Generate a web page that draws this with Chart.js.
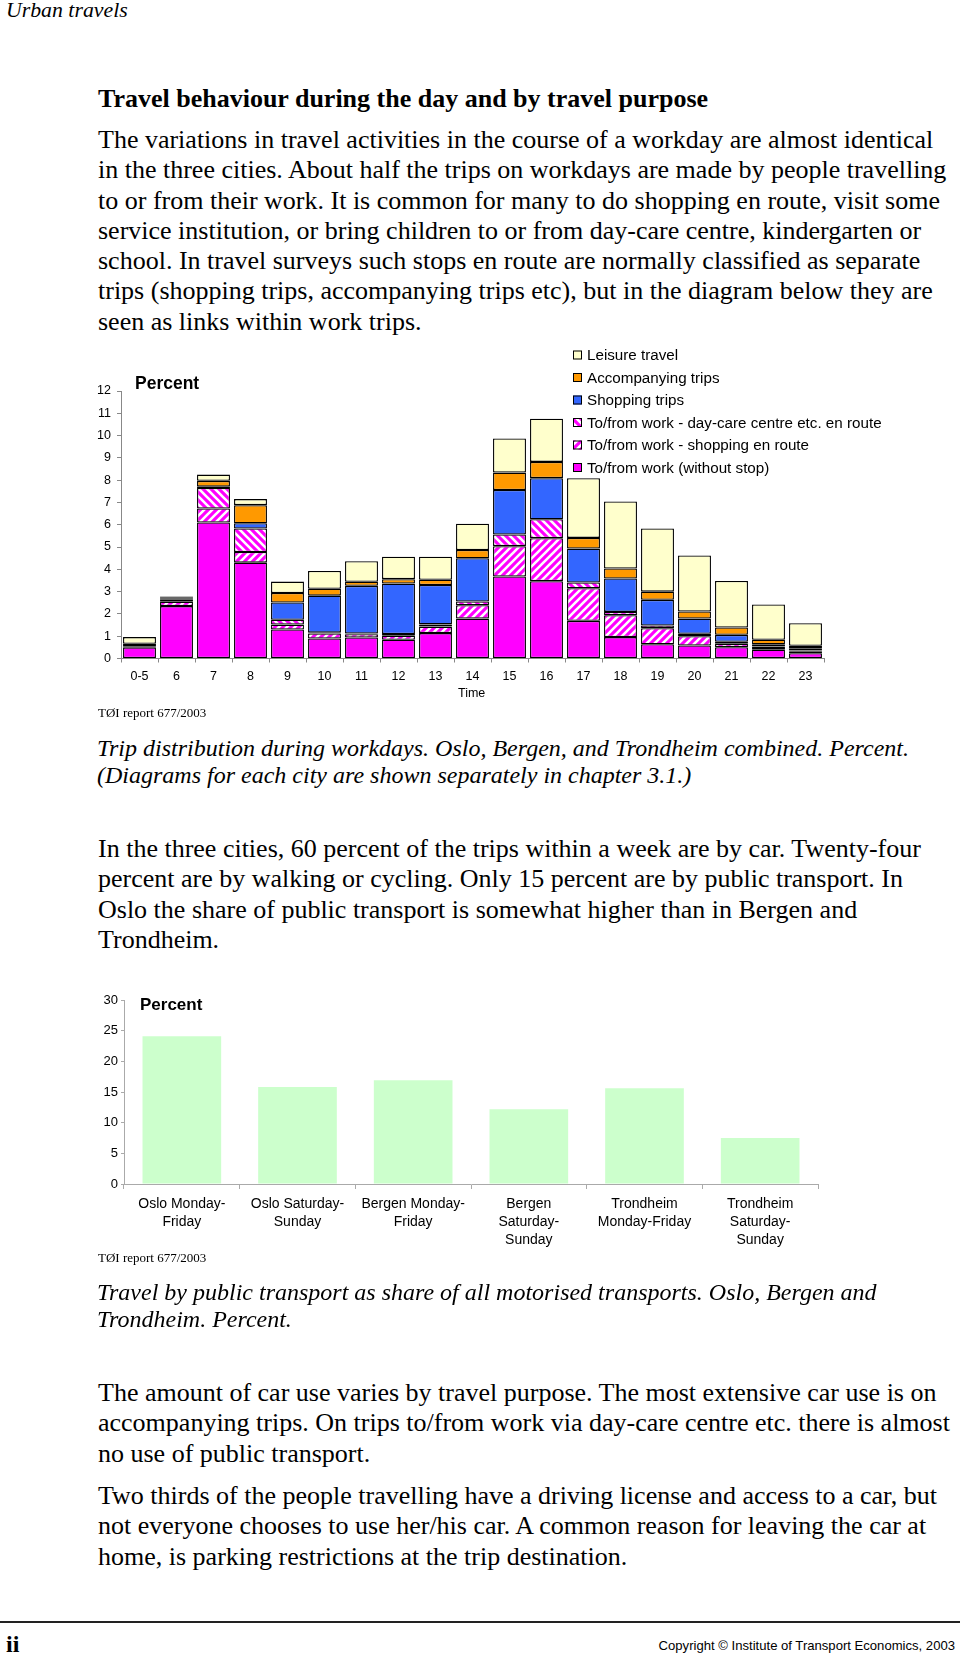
<!DOCTYPE html>
<html>
<head>
<meta charset="utf-8">
<script src="https://cdn.jsdelivr.net/npm/chart.js@4"></script>
<style>
  body { margin: 0; background: #fff; }
  .page { position: relative; width: 960px; height: 1655px; overflow: hidden; font-family: "Liberation Serif", "Times New Roman", serif; color: #000; }
  .abs { position: absolute; white-space: nowrap; }
  .body { font-size: 26px; line-height: 30.3px; left: 98px; }
  .cap { font-size: 24px; line-height: 27.2px; left: 97px; font-style: italic; }
  .sans { font-family: "Liberation Sans", Arial, sans-serif; }
  canvas { position: absolute; left: 0; }
</style>
</head>
<body>
<div class="page">
  <div class="abs" style="left:6px; top:-3px; font-size:21.8px; line-height:26px; font-style:italic;">Urban travels</div>

  <div class="abs body" style="top:84px; font-weight:bold;">Travel behaviour during the day and by travel purpose</div>
  <div class="abs body" style="top:125px;">The variations in travel activities in the course of a workday are almost identical<br>in the three cities. About half the trips on workdays are made by people travelling<br>to or from their work. It is common for many to do shopping en route, visit some<br>service institution, or bring children to or from day-care centre, kindergarten or<br>school. In travel surveys such stops en route are normally classified as separate<br>trips (shopping trips, accompanying trips etc), but in the diagram below they are<br>seen as links within work trips.</div>

  <canvas id="dayChart" width="960" height="400" style="top:330px;"></canvas>
  <div class="abs sans" style="left:135px; top:372px; font-size:17.5px; line-height:22px; font-weight:bold;">Percent</div>
  <div class="abs sans" style="left:458px; top:685px; font-size:12.5px; line-height:16px;">Time</div>
  <div class="abs" style="left:98px; top:705px; font-size:13px; line-height:16px;">TØI report 677/2003</div>

  <div class="abs cap" style="top:735px;">Trip distribution during workdays. Oslo, Bergen, and Trondheim combined. Percent.<br>(Diagrams for each city are shown separately in chapter 3.1.)</div>

  <div class="abs body" style="top:834px;">In the three cities, 60 percent of the trips within a week are by car. Twenty-four<br>percent are by walking or cycling. Only 15 percent are by public transport. In<br>Oslo the share of public transport is somewhat higher than in Bergen and<br>Trondheim.</div>

  <canvas id="ptChart" width="960" height="300" style="top:980px;"></canvas>
  <div class="abs sans" style="left:140px; top:994px; font-size:17px; line-height:22px; font-weight:bold;">Percent</div>
  <div class="abs" style="left:98px; top:1250px; font-size:13px; line-height:16px;">TØI report 677/2003</div>

  <div class="abs cap" style="top:1279px;">Travel by public transport as share of all motorised transports. Oslo, Bergen and<br>Trondheim. Percent.</div>

  <div class="abs body" style="top:1378px;">The amount of car use varies by travel purpose. The most extensive car use is on<br>accompanying trips. On trips to/from work via day-care centre etc. there is almost<br>no use of public transport.</div>
  <div class="abs body" style="top:1481px;">Two thirds of the people travelling have a driving license and access to a car, but<br>not everyone chooses to use her/his car. A common reason for leaving the car at<br>home, is parking restrictions at the trip destination.</div>

  <div class="abs" style="left:0; top:1621px; width:960px; height:2px; background:#222;"></div>
  <div class="abs" style="left:6px; top:1630px; font-size:24px; line-height:28px; font-weight:bold;">ii</div>
  <div class="abs sans" style="right:5px; top:1638px; font-size:13.1px; line-height:16px;">Copyright © Institute of Transport Economics, 2003</div>
</div>

<script>
// Trip distribution during workdays, percent of trips per hour
const hours = ['0-5', '6', '7', '8', '9', '10', '11', '12', '13', '14', '15', '16', '17', '18', '19', '20', '21', '22', '23'];
const withoutStop     = [0.50, 2.35, 6.10, 4.30, 1.30, 0.90, 0.94, 0.84, 1.14, 1.79, 3.68, 3.47, 1.69, 0.96, 0.64, 0.58, 0.51, 0.39, 0.24];
const shoppingEnRoute = [0.03, 0.20, 0.63, 0.48, 0.22, 0.22, 0.15, 0.18, 0.29, 0.60, 1.36, 1.93, 1.46, 0.98, 0.72, 0.42, 0.15, 0.08, 0.06];
const dayCareEnRoute  = [0.03, 0.08, 0.92, 1.05, 0.22, 0.04, 0.03, 0.08, 0.10, 0.17, 0.52, 0.85, 0.26, 0.15, 0.12, 0.11, 0.09, 0.07, 0.06];
const shoppingTrips   = [0.05, 0.05, 0.06, 0.24, 0.77, 1.66, 2.14, 2.26, 1.77, 1.94, 2.00, 1.84, 1.52, 1.50, 1.15, 0.68, 0.31, 0.10, 0.10];
const accompanying    = [0.05, 0.05, 0.26, 0.81, 0.43, 0.31, 0.18, 0.20, 0.23, 0.37, 0.78, 0.73, 0.48, 0.45, 0.37, 0.32, 0.33, 0.20, 0.11];
const leisure         = [0.30, 0.05, 0.28, 0.27, 0.51, 0.80, 0.92, 1.01, 1.04, 1.18, 1.53, 1.94, 2.68, 3.00, 2.83, 2.51, 2.09, 1.58, 1.01];
const dayTicks = [0, 1, 2, 3, 4, 5, 6, 7, 8, 9, 10, 11, 12];

// Public transport share of motorised transport
const periods = [['Oslo Monday-', 'Friday'], ['Oslo Saturday-', 'Sunday'], ['Bergen Monday-', 'Friday'], ['Bergen', 'Saturday-', 'Sunday'], ['Trondheim', 'Monday-Friday'], ['Trondheim', 'Saturday-', 'Sunday']];
const ptShare = [24.1, 15.8, 16.9, 12.2, 15.6, 7.5];
const ptTicks = [0, 5, 10, 15, 20, 25, 30];

Chart.defaults.font.family = '"Liberation Sans", Arial, sans-serif';
Chart.defaults.color = '#000';

function hatch(dir) {
    const c = document.createElement('canvas');
    c.width = c.height = 8;
    const g = c.getContext('2d');
    g.fillStyle = '#FF00FF';
    g.fillRect(0, 0, 8, 8);
    g.strokeStyle = '#fff';
    g.lineWidth = 2.6;
    g.beginPath();
    if (dir === '/') {
        g.moveTo(-2, 10); g.lineTo(10, -2);
        g.moveTo(-2, 2); g.lineTo(2, -2);
        g.moveTo(6, 10); g.lineTo(10, 6);
    } else {
        g.moveTo(-2, -2); g.lineTo(10, 10);
        g.moveTo(6, -2); g.lineTo(10, 2);
        g.moveTo(-2, 6); g.lineTo(2, 10);
    }
    g.stroke();
    return g.createPattern(c, 'repeat');
}

// legend drawn as a column in the upper right of the plot
const sideLegend = {
    id: 'sideLegend',
    afterDraw(chart) {
        const ctx = chart.ctx;
        const sets = chart.data.datasets.slice().reverse();
        ctx.save();
        ctx.font = '15.2px "Liberation Sans", Arial, sans-serif';
        ctx.textBaseline = 'middle';
        sets.forEach((ds, i) => {
            const y = 25 + i * 22.5;
            ctx.fillStyle = ds.backgroundColor;
            ctx.fillRect(573, y - 4.5, 9, 9);
            ctx.strokeStyle = '#000';
            ctx.lineWidth = 1;
            ctx.strokeRect(573.5, y - 4, 8, 8);
            ctx.fillStyle = '#000';
            ctx.fillText(ds.label, 587, y + 1);
        });
        ctx.restore();
    }
};

const seg = (label, data, color) => ({
    label, data, backgroundColor: color,
    borderColor: '#000', borderWidth: 1.3, borderSkipped: false,
    barPercentage: 0.89, categoryPercentage: 1
});

new Chart(document.getElementById('dayChart'), {
    type: 'bar',
    data: {
        labels: hours,
        datasets: [
            seg('To/from work (without stop)', withoutStop, '#FF00FF'),
            seg('To/from work - shopping en route', shoppingEnRoute, hatch('/')),
            seg('To/from work - day-care centre etc. en route', dayCareEnRoute, hatch('\\')),
            seg('Shopping trips', shoppingTrips, '#3366FF'),
            seg('Accompanying trips', accompanying, '#FF9900'),
            seg('Leisure travel', leisure, '#FFFFCC')
        ]
    },
    options: {
        responsive: false,
        animation: false,
        layout: { padding: { left: 91, right: 136, top: 61, bottom: 31.5 } },
        plugins: { legend: { display: false }, tooltip: { enabled: false } },
        scales: {
            x: {
                stacked: true,
                grid: { drawOnChartArea: false, tickLength: 4, color: '#888' },
                border: { color: '#888' },
                ticks: { font: { size: 12.5 }, padding: 6.5, maxRotation: 0 },
                afterFit: s => { s.height = 40; }
            },
            y: {
                stacked: true,
                min: dayTicks[0], max: dayTicks[dayTicks.length - 1],
                afterBuildTicks: s => { s.ticks = dayTicks.map(v => ({ value: v })); },
                grid: { drawOnChartArea: false, tickLength: 4, color: '#888' },
                border: { color: '#888' },
                ticks: { font: { size: 12.5 }, padding: 6 },
                afterFit: s => { s.width = 30; }
            }
        }
    },
    plugins: [sideLegend]
});

new Chart(document.getElementById('ptChart'), {
    type: 'bar',
    data: {
        labels: periods,
        datasets: [{
            label: 'Public transport share',
            data: ptShare,
            backgroundColor: '#CCFFCC',
            borderWidth: 0,
            barPercentage: 0.68,
            categoryPercentage: 1
        }]
    },
    options: {
        responsive: false,
        animation: false,
        layout: { padding: { left: 84, right: 142, top: 20, bottom: 26 } },
        plugins: { legend: { display: false }, tooltip: { enabled: false } },
        scales: {
            x: {
                grid: { drawOnChartArea: false, tickLength: 5, color: '#aaa' },
                border: { color: '#aaa' },
                ticks: { font: { size: 14, lineHeight: 1.3 }, padding: 6, maxRotation: 0 },
                afterFit: s => { s.height = 70; }
            },
            y: {
                min: ptTicks[0], max: ptTicks[ptTicks.length - 1],
                afterBuildTicks: s => { s.ticks = ptTicks.map(v => ({ value: v })); },
                grid: { drawOnChartArea: false, tickLength: 3, color: '#aaa' },
                border: { color: '#aaa' },
                ticks: { font: { size: 13 }, padding: 3 },
                afterFit: s => { s.width = 40; }
            }
        }
    }
});
</script>
</body>
</html>
